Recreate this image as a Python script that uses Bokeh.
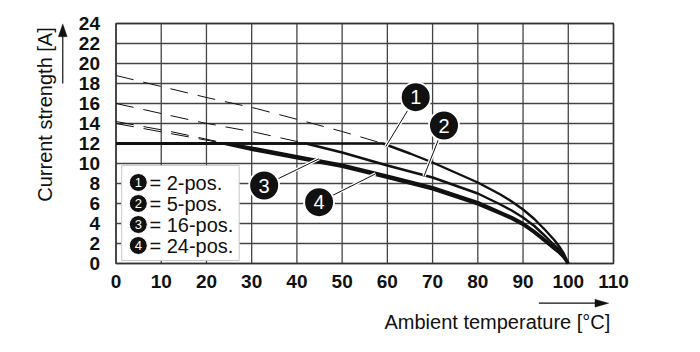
import math
from bokeh.plotting import figure
from bokeh.models import Range1d, FixedTicker, Label, Arrow, PolyAnnotation
from bokeh.core.properties import value
from bokeh.embed import file_html
from bokeh.resources import INLINE

# ---------------- data ----------------
x_ticks = [0, 10, 20, 30, 40, 50, 60, 70, 80, 90, 100, 110]
y_ticks = [0, 2, 4, 6, 8, 10, 12, 14, 16, 18, 20, 22, 24]

series_names = ["2-pos.", "5-pos.", "16-pos.", "24-pos."]
series_ids = ["1", "2", "3", "4"]

# solid derating curves (ambient temperature °C -> current A)
t1 = [0, 59, 65, 70, 75, 80, 85, 87.5, 90, 92.5, 95, 97, 98, 99, 100]
i1 = [12, 12, 11.0, 10.1, 9.1, 8.1, 6.9, 6.2, 5.4, 4.45, 3.3, 2.3, 1.7, 1.0, 0]

t2 = [0, 42, 50, 60, 70, 80, 85, 87.5, 90, 92.5, 95, 97, 98, 99, 100]
i2 = [12, 12, 11.1, 9.8, 8.6, 7.0, 5.9, 5.3, 4.6, 3.75, 2.7, 1.8, 1.4, 0.8, 0]

t3 = [0, 24.5, 30, 40, 50, 60, 70, 80, 85, 87.5, 90, 92.5, 95, 97, 98, 99, 100]
i3 = [12, 12, 11.55, 10.7, 9.85, 8.75, 7.6, 6.1, 5.1, 4.6, 4.0, 3.2, 2.3, 1.5, 1.15, 0.7, 0]

t4 = [0, 24, 30, 40, 50, 60, 70, 80, 85, 87.5, 90, 92.5, 95, 97, 98, 99, 100]
i4 = [12, 12, 11.4, 10.55, 9.7, 8.6, 7.45, 5.95, 5.0, 4.5, 3.9, 3.1, 2.2, 1.45, 1.1, 0.65, 0]

# dashed extrapolations
d1_t = [0, 20, 31, 41, 50, 59]
d1_i = [18.8, 16.6, 15.5, 14.3, 13.2, 12]
d2_t = [0, 19, 31, 42]
d2_i = [16.0, 14.1, 13.1, 12]
d3_t = [0, 12, 24.5]
d3_i = [14.2, 13.2, 12]
d4_t = [0, 12, 24]
d4_i = [14.0, 13.0, 12]

FONT = "Liberation Sans"
INK = "#111111"

# the frame covers the whole canvas; the chart area (0..110 °C, 0..24 A)
# sits at pixels x 115.5..613, y 23..263
W, H = 700, 352
sx = (613 - 115.5) / 110.0
sy = (263 - 23) / 24.0
x0 = -115.5 / sx
x1 = (W - 115.5) / sx
y0 = -(H - 263) / sy
y1 = 263 / sy

p = figure(width=W, height=H, x_range=Range1d(x0, x1), y_range=Range1d(y0, y1),
           output_backend="svg", toolbar_location=None,
           min_border_left=0, min_border_right=0, min_border_top=0, min_border_bottom=0)
p.background_fill_color = "white"
p.border_fill_color = "white"
p.outline_line_color = None
p.grid.visible = False

for ax, ticks, standoff in ((p.xaxis[0], x_ticks, 5), (p.yaxis[0], y_ticks, 10)):
    ax.fixed_location = 0
    ax.ticker = FixedTicker(ticks=ticks)
    ax.axis_line_color = None
    ax.major_tick_line_color = None
    ax.minor_tick_line_color = None
    ax.major_label_text_font = FONT
    ax.major_label_text_font_size = "19px"
    ax.major_label_text_font_style = "bold"
    ax.major_label_text_color = INK
    ax.major_label_standoff = standoff

# grid and frame
GRID = "#444444"
p.segment(x_ticks, [0] * len(x_ticks), x_ticks, [24] * len(x_ticks),
          line_color=GRID, line_width=1.3)
p.segment([0] * len(y_ticks), y_ticks, [110] * len(y_ticks), y_ticks,
          line_color=GRID, line_width=1.3)
p.quad(left=[0], right=[110], bottom=[0], top=[24], fill_color=None,
       line_color="#333333", line_width=1.5)

# dashed extrapolations
for xs, ys in ((d1_t, d1_i), (d2_t, d2_i), (d3_t, d3_i), (d4_t, d4_i)):
    p.line(xs, ys, line_color=INK, line_width=1, line_dash="18 10")

# solid curves
p.line(t3, i3, line_color=INK, line_width=3.2, line_join="round")
p.line(t4, i4, line_color=INK, line_width=3.2, line_join="round")
p.line(t2, i2, line_color=INK, line_width=2.4, line_join="round")
p.line(t1, i1, line_color=INK, line_width=2.4, line_join="round")

# callouts
cx = [66.27, 72.52, 32.76, 44.9]
cy = [16.63, 13.8, 7.8, 6.13]
ex = [59.65, 68.1, 44.9, 57.4]
ey = [11.7, 8.73, 10.47, 8.97]
p.segment(cx, cy, ex, ey, line_color="white", line_width=3.5)
p.segment(cx, cy, ex, ey, line_color=INK, line_width=1)
p.scatter(cx, cy, size=30, fill_color=INK, line_color="white", line_width=2)
p.text(cx, cy, text=series_ids, text_color="white", text_font=value(FONT),
       text_font_size=value("20px"), text_align="center", text_baseline="middle")

# legend box
p.quad(left=[1.26], right=[27.24], bottom=[0.3], top=[9.8],
       fill_color="white", line_color="#c8c8c8", line_width=1)
ly = [8.1, 6.0, 3.9, 1.8]
p.scatter([4.93] * 4, ly, size=18, fill_color=INK, line_color="white", line_width=1)
p.text([4.93] * 4, ly, text=series_ids, text_color="white", text_font=value(FONT),
       text_font_size=value("13px"), text_align="center", text_baseline="middle")
p.text([7.4] * 4, ly, text=["= " + n for n in series_names], text_color=INK,
       text_font=value(FONT), text_font_size=value("20px"),
       text_align="left", text_baseline="middle")

# axis titles
p.add_layout(Label(x=-15.75, y=14.9, text="Current strength [A]", angle=math.pi / 2,
                   text_font=FONT, text_font_size="20px", text_color=INK,
                   text_align="center", text_baseline="middle"))
p.add_layout(Label(x=109.3, y=-5.87, text="Ambient temperature [°C]",
                   text_font=FONT, text_font_size="20px", text_color=INK,
                   text_align="right", text_baseline="middle"))

# axis arrows
p.add_layout(Arrow(end=None, x_start=93.5, y_start=-3.97, x_end=106.0, y_end=-3.97,
                   line_color=INK, line_width=1.2))
p.add_layout(PolyAnnotation(xs=[105.9, 108.97, 105.9], ys=[-3.57, -3.97, -4.37],
                            fill_color=INK, fill_alpha=1, line_color=INK, line_width=1))
p.add_layout(Arrow(end=None, x_start=-11.77, y_start=18.0, x_end=-11.77, y_end=22.8,
                   line_color=INK, line_width=1.2))
p.add_layout(PolyAnnotation(xs=[-12.77, -11.77, -10.77], ys=[22.67, 23.97, 22.67],
                            fill_color=INK, fill_alpha=1, line_color=INK, line_width=1))

open("out.html", "w").write(file_html(p, INLINE))
